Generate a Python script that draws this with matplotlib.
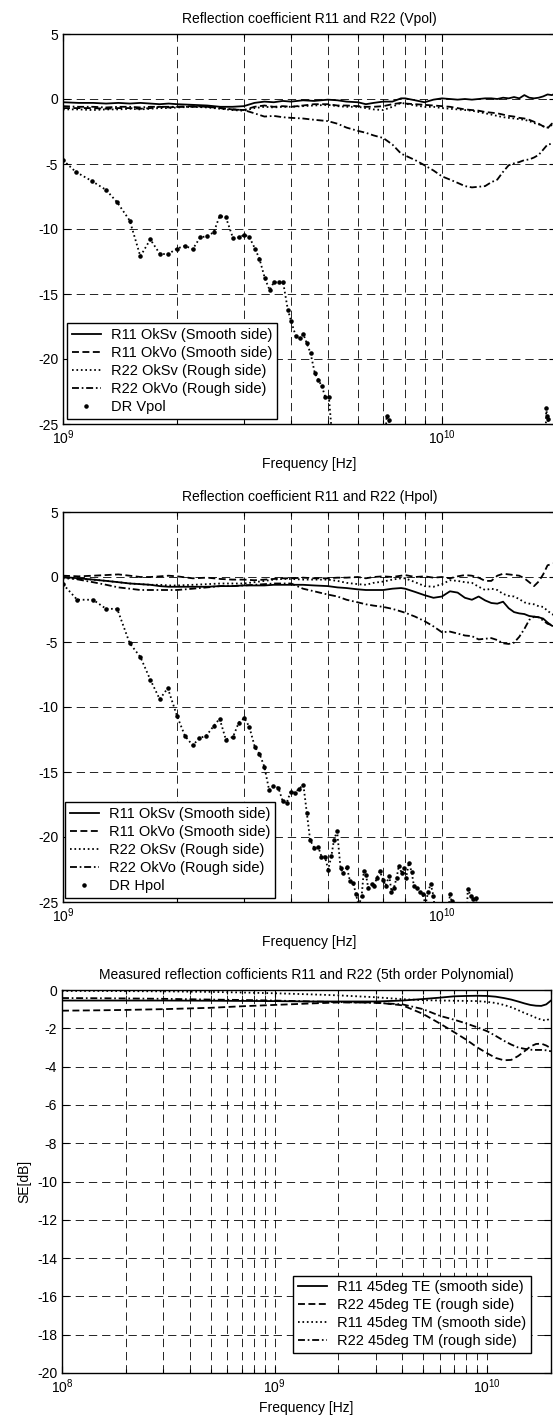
import numpy as np
import matplotlib
matplotlib.use("Agg")
import matplotlib.pyplot as plt
from matplotlib.ticker import LogLocator, NullFormatter, MultipleLocator

plt.rcParams['font.family'] = ['Liberation Sans', 'DejaVu Sans']
plt.rcParams['axes.unicode_minus'] = False
plt.rcParams['mathtext.fontset'] = 'custom'
plt.rcParams['mathtext.rm'] = 'Liberation Sans'
plt.rcParams['lines.scale_dashes'] = False

# ---- data: top two panels (frequency in GHz) ----
f_ghz = [1.0, 1.1, 1.2, 1.3, 1.4, 1.5, 1.6, 1.7, 1.8, 1.9, 2.0, 2.2, 2.4, 2.6, 2.8,
         3.0, 3.2, 3.4, 3.6, 3.8, 4.0, 4.3, 4.6, 5.0, 5.3, 5.6, 6.0, 6.3, 6.6, 7.0,
         7.4, 7.8, 8.0, 8.5, 9.0, 9.5, 10, 10.5, 11, 11.5, 12, 12.5, 13, 13.5, 14,
         14.5, 15, 15.5, 16, 16.5, 17, 17.5, 18, 18.5, 19, 19.5, 20]

# Vpol
v_r11_sv = [-0.25, -0.3, -0.3, -0.35, -0.3, -0.35, -0.3, -0.35, -0.4, -0.35, -0.4, -0.45, -0.5, -0.6, -0.6,
            -0.55, -0.3, -0.2, -0.25, -0.15, -0.2, -0.1, -0.15, -0.05, -0.1, -0.2, -0.25, -0.4, -0.3, -0.2,
            -0.2, 0.05, 0.05, -0.1, -0.25, -0.05, 0.05, 0.0, -0.05, 0.0, -0.05, 0.0, 0.05, 0.05, 0.0,
            0.1, 0.05, 0.15, 0.05, 0.3, 0.1, 0.05, 0.1, 0.2, 0.35, 0.3, 0.45]
v_r11_vo = [-0.7, -0.7, -0.7, -0.75, -0.7, -0.7, -0.75, -0.7, -0.6, -0.65, -0.6, -0.55, -0.6, -0.7, -0.8,
            -0.85, -0.6, -0.5, -0.6, -0.55, -0.6, -0.5, -0.4, -0.4, -0.5, -0.5, -0.55, -0.6, -0.6, -0.55,
            -0.4, -0.3, -0.35, -0.4, -0.45, -0.5, -0.55, -0.6, -0.7, -0.8, -0.85, -0.9, -1.0, -1.05, -1.1,
            -1.2, -1.3, -1.35, -1.45, -1.5, -1.6, -1.75, -1.9, -2.1, -2.25, -1.9, -1.7]
v_r22_sv = [-0.8, -0.8, -0.85, -0.8, -0.8, -0.75, -0.8, -0.75, -0.7, -0.7, -0.65, -0.6, -0.65, -0.75, -0.85,
            -0.9, -0.7, -0.6, -0.65, -0.6, -0.6, -0.55, -0.5, -0.45, -0.55, -0.6, -0.6, -0.7, -0.8, -0.85,
            -0.6, -0.3, -0.35, -0.5, -0.6, -0.6, -0.7, -0.75, -0.8, -0.85, -0.9, -1.0, -1.1, -1.2, -1.3,
            -1.4, -1.45, -1.5, -1.55, -1.6, -1.7, -1.85, -1.95, -2.1, -2.2, -2.0, -1.8]
v_r22_vo = [-0.55, -0.6, -0.6, -0.65, -0.6, -0.6, -0.65, -0.6, -0.6, -0.6, -0.6, -0.6, -0.6, -0.7, -0.8,
            -0.85, -1.1, -1.35, -1.3, -1.4, -1.45, -1.5, -1.6, -1.7, -1.9, -2.2, -2.45, -2.6, -2.8, -3.0,
            -3.5, -4.2, -4.35, -4.7, -5.1, -5.5, -5.95, -6.2, -6.45, -6.7, -6.8, -6.75, -6.7, -6.4, -6.2,
            -5.6, -5.1, -4.95, -4.85, -4.7, -4.65, -4.5, -4.3, -3.9, -3.5, -3.45, -3.4]

dr_v_f = [1.0, 1.08, 1.19, 1.30, 1.39, 1.50, 1.60, 1.70, 1.80, 1.89, 2.0, 2.1, 2.2, 2.3, 2.4,
          2.5, 2.59, 2.69, 2.81, 2.91, 3.01, 3.10, 3.21, 3.30, 3.41, 3.51, 3.60, 3.72, 3.81, 3.92,
          4.0, 4.11, 4.22, 4.31, 4.40, 4.50, 4.62, 4.72, 4.82, 4.92, 5.03, 5.2, 7.0, 7.15, 7.25,
          7.35, 18.7, 18.85, 18.95, 19.05, 19.2]
dr_v = [-4.7, -5.6, -6.3, -7.0, -7.95, -9.35, -12.1, -10.8, -11.9, -11.95, -11.5, -11.3, -11.55, -10.65, -10.55,
        -10.25, -9.0, -9.1, -10.7, -10.65, -10.45, -10.6, -11.5, -12.3, -13.8, -14.7, -14.1, -14.1, -14.1, -16.2,
        -17.1, -18.2, -18.4, -18.1, -18.8, -19.55, -21.1, -21.6, -22.1, -22.9, -22.9, -28, -28, -24.4, -24.7,
        -28, -28, -23.8, -24.4, -24.6, -28]

# Hpol
h_r11_sv = [0.0, -0.1, -0.2, -0.3, -0.4, -0.5, -0.55, -0.6, -0.7, -0.75, -0.75, -0.75, -0.75, -0.7, -0.7,
            -0.65, -0.65, -0.65, -0.6, -0.6, -0.6, -0.6, -0.65, -0.7, -0.8, -0.85, -0.95, -1.0, -1.0, -1.0,
            -0.9, -0.85, -0.9, -1.15, -1.4, -1.6, -1.5, -1.1, -1.2, -1.6, -1.75, -1.5, -1.8, -2.0, -2.05,
            -1.9, -2.4, -2.7, -2.8, -2.85, -3.0, -3.05, -3.1, -3.2, -3.5, -3.75, -3.8]
h_r11_vo = [0.1, 0.05, 0.1, 0.15, 0.2, 0.1, 0.0, 0.0, 0.05, 0.1, 0.05, -0.1, -0.05, -0.15, -0.2,
            -0.2, -0.25, -0.2, -0.15, -0.1, -0.1, -0.05, -0.1, -0.1, -0.05, -0.05, 0.0, -0.1, 0.0, 0.05,
            0.0, 0.1, 0.15, 0.0, 0.05, -0.05, 0.0, -0.1, 0.05, 0.15, 0.1, -0.05, -0.3, -0.3, 0.1,
            0.25, 0.2, 0.15, 0.1, -0.1, -0.4, -0.7, -0.35, 0.2, 0.9, 1.0, 1.1]
h_r22_sv = [-0.1, -0.15, -0.2, -0.3, -0.4, -0.5, -0.55, -0.6, -0.6, -0.65, -0.65, -0.6, -0.55, -0.5, -0.5,
            -0.5, -0.4, -0.3, -0.2, -0.15, -0.15, -0.2, -0.2, -0.2, -0.3, -0.45, -0.55, -0.6, -0.45, -0.35,
            -0.2, -0.1, -0.1, -0.4, -0.7, -0.75, -0.55, -0.25, -0.3, -0.4, -0.45, -0.75, -1.0, -0.9, -1.0,
            -1.3, -1.45, -1.5, -1.7, -1.95, -2.05, -2.1, -2.25, -2.3, -2.6, -2.85, -3.0]
h_r22_vo = [0.0, -0.2, -0.4, -0.6, -0.8, -0.9, -1.0, -1.0, -1.0, -1.0, -1.0, -0.9, -0.8, -0.7, -0.7,
            -0.65, -0.6, -0.55, -0.5, -0.5, -0.5, -0.9, -1.1, -1.35, -1.5, -1.75, -1.95, -2.1, -2.2, -2.3,
            -2.45, -2.65, -2.75, -3.05, -3.4, -3.8, -4.25, -4.2, -4.35, -4.5, -4.55, -4.8, -4.75, -4.7, -4.85,
            -5.1, -5.15, -5.05, -4.6, -4.0, -3.3, -3.05, -3.1, -3.35, -3.6, -3.7, -3.7]

dr_h_f = [1.0, 1.09, 1.20, 1.30, 1.39, 1.50, 1.60, 1.70, 1.80, 1.89, 2.0, 2.1, 2.2, 2.29, 2.39,
          2.50, 2.59, 2.69, 2.81, 2.91, 3.01, 3.10, 3.21, 3.30, 3.40, 3.50, 3.59, 3.70, 3.80, 3.89,
          3.99, 4.09, 4.19, 4.31, 4.40, 4.49, 4.61, 4.72, 4.81, 4.91, 5.01, 5.11, 5.19, 5.29, 5.40,
          5.49, 5.61, 5.72, 5.83, 5.93, 6.03, 6.14, 6.22, 6.30, 6.39, 6.52, 6.62, 6.73, 6.86, 7.0,
          7.10, 7.26, 7.36, 7.47, 7.59, 7.70, 7.83, 7.94, 8.04, 8.18, 8.32, 8.44, 8.57, 8.75, 8.89,
          9.05, 9.20, 9.34, 9.49, 9.7, 10.3, 10.5, 10.6, 10.9, 11.0, 11.3, 11.6, 11.7, 11.9, 12.1,
          12.3, 12.6]
dr_h = [-0.55, -1.75, -1.75, -2.45, -2.45, -5.1, -6.15, -7.9, -9.4, -8.55, -10.7, -12.25, -12.95, -12.4, -12.2,
        -11.45, -10.9, -12.5, -12.3, -11.2, -10.85, -11.5, -13.1, -13.6, -14.6, -16.4, -16.1, -16.2, -17.25, -17.4,
        -16.5, -16.6, -16.3, -16.0, -18.15, -20.25, -20.85, -20.8, -21.5, -21.5, -22.5, -21.45, -20.2, -19.55, -22.4,
        -22.8, -22.3, -23.4, -23.5, -24.4, -25.3, -24.55, -22.6, -22.9, -23.9, -23.65, -23.8, -23.15, -22.65, -23.3,
        -23.75, -23.0, -24.2, -23.9, -23.15, -22.2, -22.8, -22.4, -23.15, -22.0, -22.7, -23.8, -23.9, -24.25, -24.4,
        -25.2, -24.2, -23.6, -24.5, -27, -27, -24.4, -24.9, -25.2, -25.2, -27, -27, -24.0, -24.5, -24.8,
        -24.7, -27]

# ---- data: bottom panel (frequency in Hz) ----
f_poly = [1e8, 1.5e8, 2e8, 3e8, 5e8, 7e8, 1e9, 1.5e9, 2e9, 3e9, 4e9, 5e9, 6e9, 7e9, 8e9,
          9e9, 1e10, 1.1e10, 1.2e10, 1.3e10, 1.4e10, 1.5e10, 1.6e10, 1.7e10, 1.8e10, 1.9e10, 2e10]
p_r11_te = [-0.55, -0.55, -0.55, -0.55, -0.56, -0.57, -0.58, -0.6, -0.6, -0.6, -0.55, -0.47, -0.4, -0.33, -0.31,
            -0.3, -0.31, -0.35, -0.42, -0.5, -0.6, -0.7, -0.78, -0.82, -0.83, -0.75, -0.55]
p_r22_te = [-1.08, -1.06, -1.04, -1.0, -0.93, -0.85, -0.78, -0.7, -0.65, -0.65, -0.8, -1.25, -1.75, -2.2, -2.6,
            -3.0, -3.3, -3.55, -3.67, -3.65, -3.45, -3.2, -2.95, -2.82, -2.8, -2.9, -3.05]
p_r11_tm = [-0.05, -0.05, -0.06, -0.07, -0.1, -0.13, -0.17, -0.23, -0.28, -0.38, -0.48, -0.53, -0.55, -0.56, -0.57,
            -0.58, -0.62, -0.68, -0.78, -0.9, -1.05, -1.2, -1.32, -1.45, -1.55, -1.6, -1.45]
p_r22_tm = [-0.42, -0.43, -0.44, -0.46, -0.5, -0.52, -0.55, -0.6, -0.63, -0.67, -0.75, -1.0, -1.35, -1.55, -1.75,
            -1.95, -2.15, -2.4, -2.65, -2.85, -3.0, -3.07, -3.12, -3.13, -3.13, -3.15, -3.2]

labels_top = ["R11 OkSv (Smooth side)", "R11 OkVo (Smooth side)",
              "R22 OkSv (Rough side)", "R22 OkVo (Rough side)"]
labels_poly = ["R11 45deg TE (smooth side)", "R22 45deg TE (rough side)",
               "R11 45deg TM (smooth side)", "R22 45deg TM (rough side)"]

# line styles (MATLAB look)
ls_solid = '-'
ls_dash = (0, (5, 2.5))
ls_dot = (0, (1.2, 2))
ls_dashdot = (0, (5, 2, 1.2, 2))
styles = [ls_solid, ls_dash, ls_dot, ls_dashdot]
grid_ls = (0, (6, 3.5))
FS = 10
LFS = 10.5


def style_axes(ax):
    ax.set_xscale('log')
    ax.xaxis.set_minor_locator(LogLocator(base=10, subs=np.arange(2, 10)))
    ax.xaxis.set_minor_formatter(NullFormatter())
    ax.grid(True, which='both', axis='x', linestyle=grid_ls, color='k', linewidth=0.6)
    ax.grid(True, which='major', axis='y', linestyle=grid_ls, color='k', linewidth=0.6)
    ax.tick_params(which='both', direction='in', top=True, right=True, labelsize=FS, width=0.8)
    ax.tick_params(which='major', length=5)
    ax.tick_params(which='minor', length=3)
    for s in ax.spines.values():
        s.set_linewidth(1.0)


def add_legend(ax, loc, anchor):
    leg = ax.legend(loc=loc, bbox_to_anchor=anchor, borderaxespad=0,
                    fontsize=LFS, fancybox=False, framealpha=1, edgecolor='k',
                    handlelength=2.0, handletextpad=0.7, labelspacing=0.28,
                    borderpad=0.32)
    leg.get_frame().set_linewidth(1.0)


fig = plt.figure(figsize=(5.53, 14.19), dpi=100)
W = 553.0
H = 1419.0
ax1 = fig.add_axes([63 / W, 1 - 424 / H, (556 - 63) / W, 390 / H])
ax2 = fig.add_axes([63 / W, 1 - 902 / H, (556 - 63) / W, 390 / H])
ax3 = fig.add_axes([62 / W, 1 - 1373 / H, (551 - 62) / W, 383 / H])

f_hz = np.array(f_ghz) * 1e9

for ax, curves, drf, dr, drlab, ttl, legpos in [
        (ax1, [v_r11_sv, v_r11_vo, v_r22_sv, v_r22_vo], dr_v_f, dr_v, "DR Vpol",
         "Reflection coefficient R11 and R22 (Vpol)", (0.008, 0.013)),
        (ax2, [h_r11_sv, h_r11_vo, h_r22_sv, h_r22_vo], dr_h_f, dr_h, "DR Hpol",
         "Reflection coefficient R11 and R22 (Hpol)", (0.004, 0.010))]:
    style_axes(ax)
    for vals, ls, lab in zip(curves, styles, labels_top):
        ax.plot(f_hz, vals, color='k', linestyle=ls, linewidth=1.3, label=lab)
    ax.plot(np.array(drf) * 1e9, dr, color='k', linestyle=ls_dot, linewidth=1.3,
            marker='.', markersize=4.5)
    ax.plot([], [], color='k', linestyle='none', marker='.', markersize=4.5, label=drlab)
    ax.set_xlim(1e9, 2e10)
    ax.set_ylim(-25, 5)
    ax.yaxis.set_major_locator(MultipleLocator(5))
    ax.set_title(ttl, fontsize=FS, pad=8)
    ax.set_xlabel("Frequency [Hz]", fontsize=FS, labelpad=7)
    add_legend(ax, 'lower left', legpos)

style_axes(ax3)
for vals, ls, lab in zip([p_r11_te, p_r22_te, p_r11_tm, p_r22_tm], styles, labels_poly):
    ax3.plot(f_poly, vals, color='k', linestyle=ls, linewidth=1.3, label=lab)
ax3.set_xlim(1e8, 2e10)
ax3.set_ylim(-20, 0)
ax3.yaxis.set_major_locator(MultipleLocator(2))
ax3.set_title("Measured reflection cofficients R11 and R22 (5th order Polynomial)", fontsize=FS, pad=8)
ax3.set_xlabel("Frequency [Hz]", fontsize=FS, labelpad=3)
ax3.set_ylabel("SE[dB]", fontsize=FS)
add_legend(ax3, 'lower right', (0.959, 0.052))

fig.savefig("out.png", dpi=100)
